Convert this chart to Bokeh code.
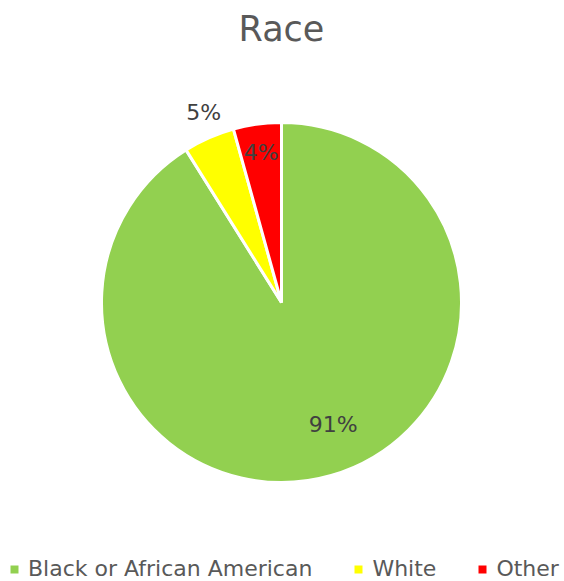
import math
from bokeh.plotting import figure
from bokeh.models import ColumnDataSource, Legend, LegendItem, Range1d
from bokeh.core.properties import value
from bokeh.embed import file_html
from bokeh.resources import INLINE

# ---- data ----
title_text = "Race"
categories = ["Black or African American", "White", "Other"]
shares = [91.1, 4.6, 4.3]
labels = ["91%", "5%", "4%"]
colors = ["#92D050", "#FFFF00", "#FF0000"]

# ---- styles ----
W, H = 564, 581
CX, CY, R = 281, 279, 180
label_radius = [0.735, 1.14, 0.84]
label_offset_deg = [7.0, -1.5, 0.0]
FONT = "DejaVu Sans"

total = sum(shares)
starts, ends, lx, ly = [], [], [], []
cum = 0.0
for i, s in enumerate(shares):
    a0 = math.pi / 2 - 2 * math.pi * cum / total
    cum += s
    a1 = math.pi / 2 - 2 * math.pi * cum / total
    starts.append(a0)
    ends.append(a1)
    mid = (a0 + a1) / 2 + math.radians(label_offset_deg[i])
    lx.append(CX + R * label_radius[i] * math.cos(mid))
    ly.append(CY + R * label_radius[i] * math.sin(mid))

src = ColumnDataSource(dict(cat=categories, start=starts, end=ends, color=colors,
                            lx=lx, ly=ly, label=labels))

p = figure(width=W, height=H, output_backend="svg", toolbar_location=None,
           x_range=Range1d(0, W), y_range=Range1d(0, H), min_border=0,
           match_aspect=False)
p.axis.visible = False
p.grid.visible = False
p.outline_line_color = None
p.background_fill_color = "white"
p.border_fill_color = "white"

p.wedge(x=CX, y=CY, radius=R, start_angle="start", end_angle="end",
        direction="clock", fill_color="color", line_color="white",
        line_width=3, source=src)

p.text(x="lx", y="ly", text="label", source=src, text_align="center",
       text_baseline="middle", text_font=value(FONT),
       text_font_size="22px", text_color="#404040")

p.text(x=[CX], y=[H - 28], text=[title_text], text_align="center",
       text_baseline="middle", text_font=value(FONT),
       text_font_size="35px", text_color="#595959")

# legend markers (off-canvas points, used only for legend swatches)
items = []
for c, col in zip(categories, colors):
    r = p.scatter(x=[-100], y=[-100], marker="square", size=8,
                  fill_color=col, line_color=None)
    items.append(LegendItem(label=c, renderers=[r]))

legend = Legend(items=items, orientation="horizontal", location=(4, 0),
                glyph_width=20, glyph_height=20, label_standoff=4,
                spacing=36, padding=0, margin=0,
                border_line_color=None, background_fill_alpha=0,
                label_text_font=FONT, label_text_font_size="22px",
                label_text_color="#595959", label_height=20)
p.add_layout(legend, "center")

open("out.html", "w").write(file_html(p, INLINE))
